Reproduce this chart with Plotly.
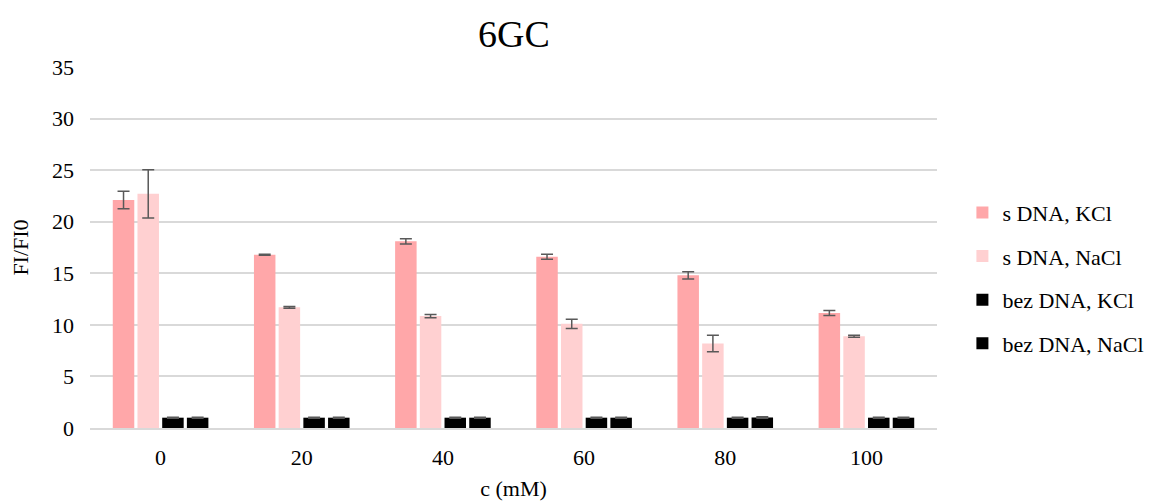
import plotly.graph_objects as go

categories = ["0", "20", "40", "60", "80", "100"]

s_kcl = [22.1, 16.8, 18.1, 16.6, 14.8, 11.15]
s_kcl_err = [0.85, 0.05, 0.25, 0.25, 0.35, 0.25]
s_nacl = [22.7, 11.7, 10.85, 10.1, 8.2, 8.9]
s_nacl_err = [2.35, 0.08, 0.15, 0.45, 0.8, 0.1]
bez_kcl = [1.0, 1.0, 1.0, 1.0, 1.0, 1.0]
bez_kcl_err = [0.05, 0.05, 0.05, 0.05, 0.05, 0.05]
bez_nacl = [1.0, 1.0, 1.0, 1.0, 1.02, 1.0]
bez_nacl_err = [0.05, 0.05, 0.05, 0.05, 0.07, 0.05]

names = ["s DNA, KCl", "s DNA, NaCl", "bez DNA, KCl", "bez DNA, NaCl"]
colors = ["#FFA7A9", "#FFD0D1", "#000000", "#000000"]
series = [s_kcl, s_nacl, bez_kcl, bez_nacl]
errors = [s_kcl_err, s_nacl_err, bez_kcl_err, bez_nacl_err]

FONT = "Liberation Serif"
W, H = 1153, 501
L, R, T, B = 80, 221, 59, 81

fig = go.Figure()
for i, (n, c, v, e) in enumerate(zip(names, colors, series, errors)):
    fig.add_trace(go.Bar(
        name=n, x=categories, y=v,
        marker=dict(color=c, line=dict(width=0)),
        error_y=dict(type="data", array=e, visible=True,
                     color="#595959", thickness=1.5, width=6),
        legendgroup=f"g{i}",
    ))

fig.update_layout(
    width=W, height=H,
    paper_bgcolor="white", plot_bgcolor="white",
    font=dict(family=FONT, color="#000000", size=20),
    title=dict(text="6GC", x=(L + (W - R)) / 2 / W, xanchor="center",
               y=1 - 26 / H, yanchor="middle",
               font=dict(family=FONT, size=38, color="#000000")),
    margin=dict(l=L, r=R, t=T, b=B),
    barmode="group", bargap=0.3, bargroupgap=0.13,
    showlegend=True,
    legend=dict(x=1.03, xanchor="left", y=0.415, yanchor="middle",
                font=dict(family=FONT, size=22, color="#000000"),
                tracegroupgap=12, traceorder="grouped", itemwidth=30,
                bgcolor="rgba(0,0,0,0)"),
    xaxis=dict(type="category", showgrid=False, showline=True,
               linecolor="#D9D9D9", linewidth=2, ticks="",
               tickfont=dict(family=FONT, size=22), ticklabelstandoff=9,
               title=dict(text="c (mM)", font=dict(family=FONT, size=22), standoff=11)),
    yaxis=dict(range=[0, 35], dtick=5, showgrid=True, gridcolor="#D9D9D9",
               gridwidth=2, zeroline=False, showline=False, ticks="",
               tickfont=dict(family=FONT, size=22), ticklen=0, ticklabelstandoff=15,
               title=dict(text="FI/FI0", font=dict(family=FONT, size=22), standoff=17)),
)

fig.write_html("out.html")
